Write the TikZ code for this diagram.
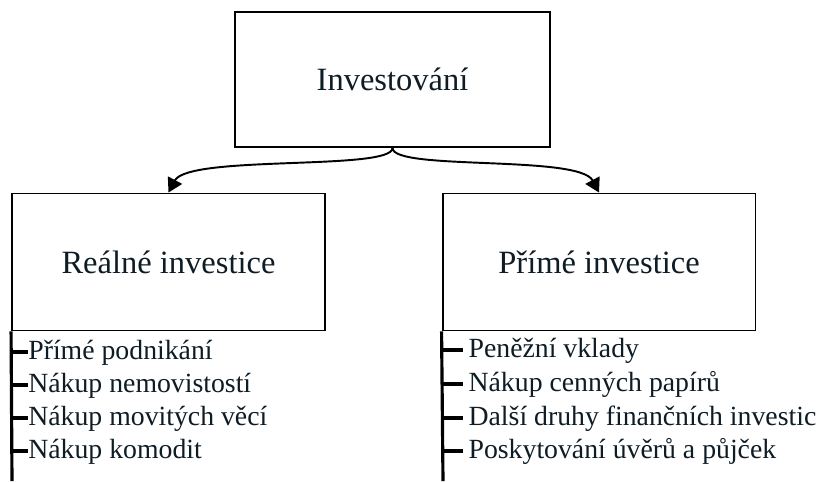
\documentclass[tikz,border=0pt]{standalone}
\usepackage{fontspec}
\setmainfont{Liberation Serif}
\usepackage{tikz}
\usetikzlibrary{arrows.meta}

\definecolor{inkdark}{RGB}{14,28,38}

\begin{document}
\begin{tikzpicture}[x=0.02cm, y=-0.02cm,
    box/.style={draw, line width=1.1pt, minimum width=6.26cm, minimum height=2.74cm,
                text=inkdark, font=\fontsize{18.5}{22}\selectfont},
    item/.style={anchor=west, inner sep=0pt, text height=11pt, text depth=3pt,
                 text=inkdark, font=\fontsize{15.8}{19}\selectfont},
    conn/.style={line width=1.1pt, -{Triangle[length=8pt, width=9pt]}},
    rail/.style={line width=1.8pt}]
    \useasboundingbox (0,0) rectangle (817,481);

    % --- Boxes ---
    \node[box, minimum width=6.3cm, minimum height=2.7cm] (top) at (392.5,79.5) {Investování};
    \node[box] (lbox) at (168.5,262) {Reálné investice};
    \node[box] (rbox) at (599,262) {Přímé investice};

    % Curved arrows from the top box
    \draw[conn] (top.south) .. controls +(0,23) and +(20,-38) .. (lbox.north);
    \draw[conn] (top.south) .. controls +(0,23) and +(-20,-38) .. (rbox.north);

    % --- Left list ---
    \coordinate (lfoot) at (12,481);
    \draw[rail] (lbox.south west) -- (lfoot);
    \node[item] (l1) at (28,352) {Přímé podnikání};
    \node[item] (l2) at (28,385) {Nákup nemovistostí};
    \node[item] (l3) at (28,418) {Nákup movitých věcí};
    \node[item] (l4) at (28,451) {Nákup komodit};
    \foreach \i in {1,...,4}
        \draw[rail] (lbox.south west |- l\i.west) -- (l\i.west);

    % --- Right list ---
    \coordinate (rfoot) at (443,481);
    \draw[rail] (rbox.south west) -- (rfoot);
    \node[item, inner xsep=3pt] (r1) at (463,350) {Peněžní vklady};
    \node[item, inner xsep=3pt] (r2) at (463,384) {Nákup cenných papírů};
    \node[item, inner xsep=3pt] (r3) at (463,418) {Další druhy finančních investic};
    \node[item, inner xsep=3pt] (r4) at (463,451) {Poskytování úvěrů a půjček};
    \foreach \i in {1,...,4}
        \draw[rail] (rbox.south west |- r\i.west) -- (r\i.west);
\end{tikzpicture}
\end{document}
